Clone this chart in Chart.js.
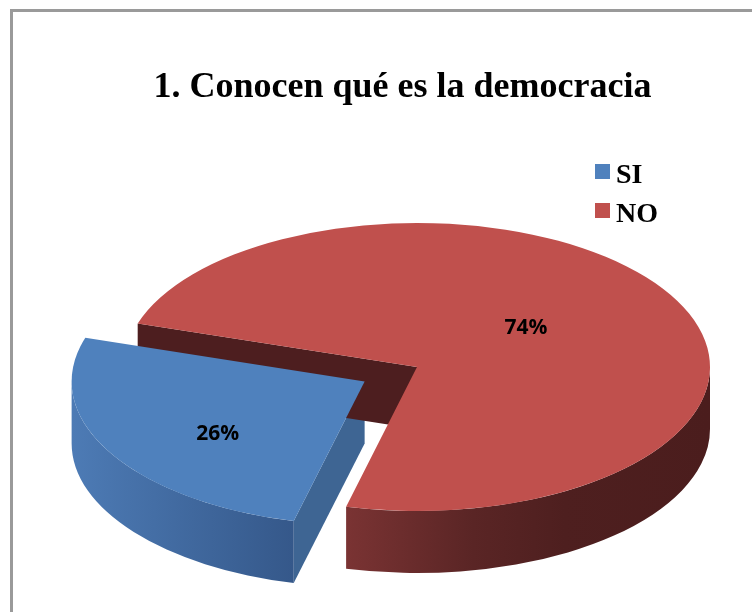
<!DOCTYPE html>
<html>
<head>
<meta charset="utf-8">
<script src="https://cdn.jsdelivr.net/npm/chart.js@4.4.1/dist/chart.umd.min.js"></script>
<style>
  html, body { margin: 0; padding: 0; background: #fff; overflow: hidden; width: 752px; height: 612px; }
  #frame { position: absolute; left: 10px; top: 9px; width: 800px; height: 700px; border: 3px solid #9a9a9a; }
  #pie { position: absolute; left: 0; top: 0; }
  .serif { font-family: "Liberation Serif", "Times New Roman", serif; font-weight: bold; color: #000; position: absolute; white-space: nowrap; }
  #title { left: 0; width: 805px; top: 67px; text-align: center; font-size: 36px; line-height: 36px; }
  .item { left: 616px; font-size: 28px; line-height: 28px; }
  .box { position: absolute; left: 595px; width: 15px; height: 15px; }
</style>
</head>
<body>
<div id="frame"></div>
<canvas id="pie" width="752" height="612"></canvas>
<div id="title" class="serif">1. Conocen qué es la democracia</div>
<div id="legend"></div>

<script>
const categories = ['SI', 'NO'];
const values = [26, 74];
const percentLabels = ['26%', '74%'];

// styles
const topColors = ['#4f81bd', '#c0504d'];
const faceColors = ['#3e6593', '#4d1e1f'];
const sideStops = [
  [[0, '#4d7bb5'], [1, '#35588a']],
  [[0, '#7a3333'], [0.35, '#5a2525'], [0.6, '#4e1f1f'], [1, '#4b1d1d']]
];
const explode = [60, 0];

// legend
const legend = document.getElementById('legend');
categories.forEach((c, i) => {
  const box = document.createElement('div');
  box.className = 'box';
  box.style.top = (164 + i * 39) + 'px';
  box.style.background = topColors[i];
  legend.appendChild(box);
  const t = document.createElement('div');
  t.className = 'serif item';
  t.style.top = (159.5 + i * 39) + 'px';
  t.textContent = c;
  legend.appendChild(t);
});

// squash the pie into an ellipse and give it a thickness
const pie3d = {
  id: 'pie3d',
  beforeDatasetsDraw(chart, args, opts) {
    const ctx = chart.ctx;
    const arcs = chart.getDatasetMeta(0).data;
    const k = opts.tilt, h = opts.depth;
    const parts = arcs.map((arc, i) => {
      const p = arc.getProps(['x', 'y', 'startAngle', 'endAngle', 'outerRadius'], true);
      const mid = (p.startAngle + p.endAngle) / 2;
      const off = arc.options.offset || 0;
      return {
        i: i, r: p.outerRadius, s: p.startAngle, e: p.endAngle, mid: mid,
        cx: p.x + Math.cos(mid) * off,
        cy: p.y + Math.sin(mid) * off * k
      };
    });
    chart.$parts = parts;

    ctx.save();
    // cut faces
    parts.forEach(q => {
      [[q.s, Math.cos(q.s) < 0], [q.e, Math.cos(q.e) > 0]].forEach(([a, vis]) => {
        if (!vis) return;
        const px = q.cx + q.r * Math.cos(a), py = q.cy + q.r * k * Math.sin(a);
        ctx.beginPath();
        ctx.moveTo(q.cx, q.cy);
        ctx.lineTo(px, py);
        ctx.lineTo(px, py + h);
        ctx.lineTo(q.cx, q.cy + h);
        ctx.closePath();
        ctx.fillStyle = faceColors[q.i];
        ctx.fill();
      });
    });
    // outer rims (front half only)
    parts.forEach(q => {
      for (let n = -2; n <= 2; n++) {
        const lo = Math.max(q.s, n * 2 * Math.PI);
        const hi = Math.min(q.e, n * 2 * Math.PI + Math.PI);
        if (hi <= lo) continue;
        const x0 = q.cx + q.r * Math.cos(hi), x1 = q.cx + q.r * Math.cos(lo);
        const g = ctx.createLinearGradient(x0, 0, x1 + 0.01, 0);
        sideStops[q.i].forEach(st => g.addColorStop(st[0], st[1]));
        ctx.beginPath();
        ctx.ellipse(q.cx, q.cy, q.r, q.r * k, 0, lo, hi);
        ctx.ellipse(q.cx, q.cy + h, q.r, q.r * k, 0, hi, lo, true);
        ctx.closePath();
        ctx.fillStyle = g;
        ctx.fill();
      }
    });
    // top faces
    parts.forEach(q => {
      ctx.beginPath();
      ctx.moveTo(q.cx, q.cy);
      ctx.ellipse(q.cx, q.cy, q.r, q.r * k, 0, q.s, q.e);
      ctx.closePath();
      ctx.fillStyle = arcs[q.i].options.backgroundColor;
      ctx.fill();
    });
    ctx.restore();
    return false;
  },
  afterDraw(chart, args, opts) {
    const ctx = chart.ctx;
    const k = opts.tilt;
    ctx.save();
    ctx.font = 'bold 21px "Open Sans"';
    ctx.fillStyle = '#000';
    ctx.textAlign = 'center';
    ctx.textBaseline = 'middle';
    (chart.$parts || []).forEach(q => {
      const a = q.mid + opts.labelTurn;
      const rr = q.r * opts.labelRadius[q.i];
      ctx.fillText(percentLabels[q.i], q.cx + rr * Math.cos(a), q.cy + rr * k * Math.sin(a));
    });
    ctx.restore();
  }
};

new Chart(document.getElementById('pie'), {
  type: 'pie',
  data: {
    labels: categories,
    datasets: [{
      data: values,
      backgroundColor: topColors,
      offset: explode,
      borderWidth: 0
    }]
  },
  options: {
    responsive: false,
    animation: false,
    rotation: 194,
    radius: 293,
    layout: { padding: { left: 82, top: 122 } },
    events: [],
    plugins: {
      legend: { display: false },
      tooltip: { enabled: false },
      pie3d: { tilt: 0.4915, depth: 62, labelRadius: [0.62, 0.46], labelTurn: -0.12 }
    }
  },
  plugins: [pie3d]
});
</script>
</body>
</html>
